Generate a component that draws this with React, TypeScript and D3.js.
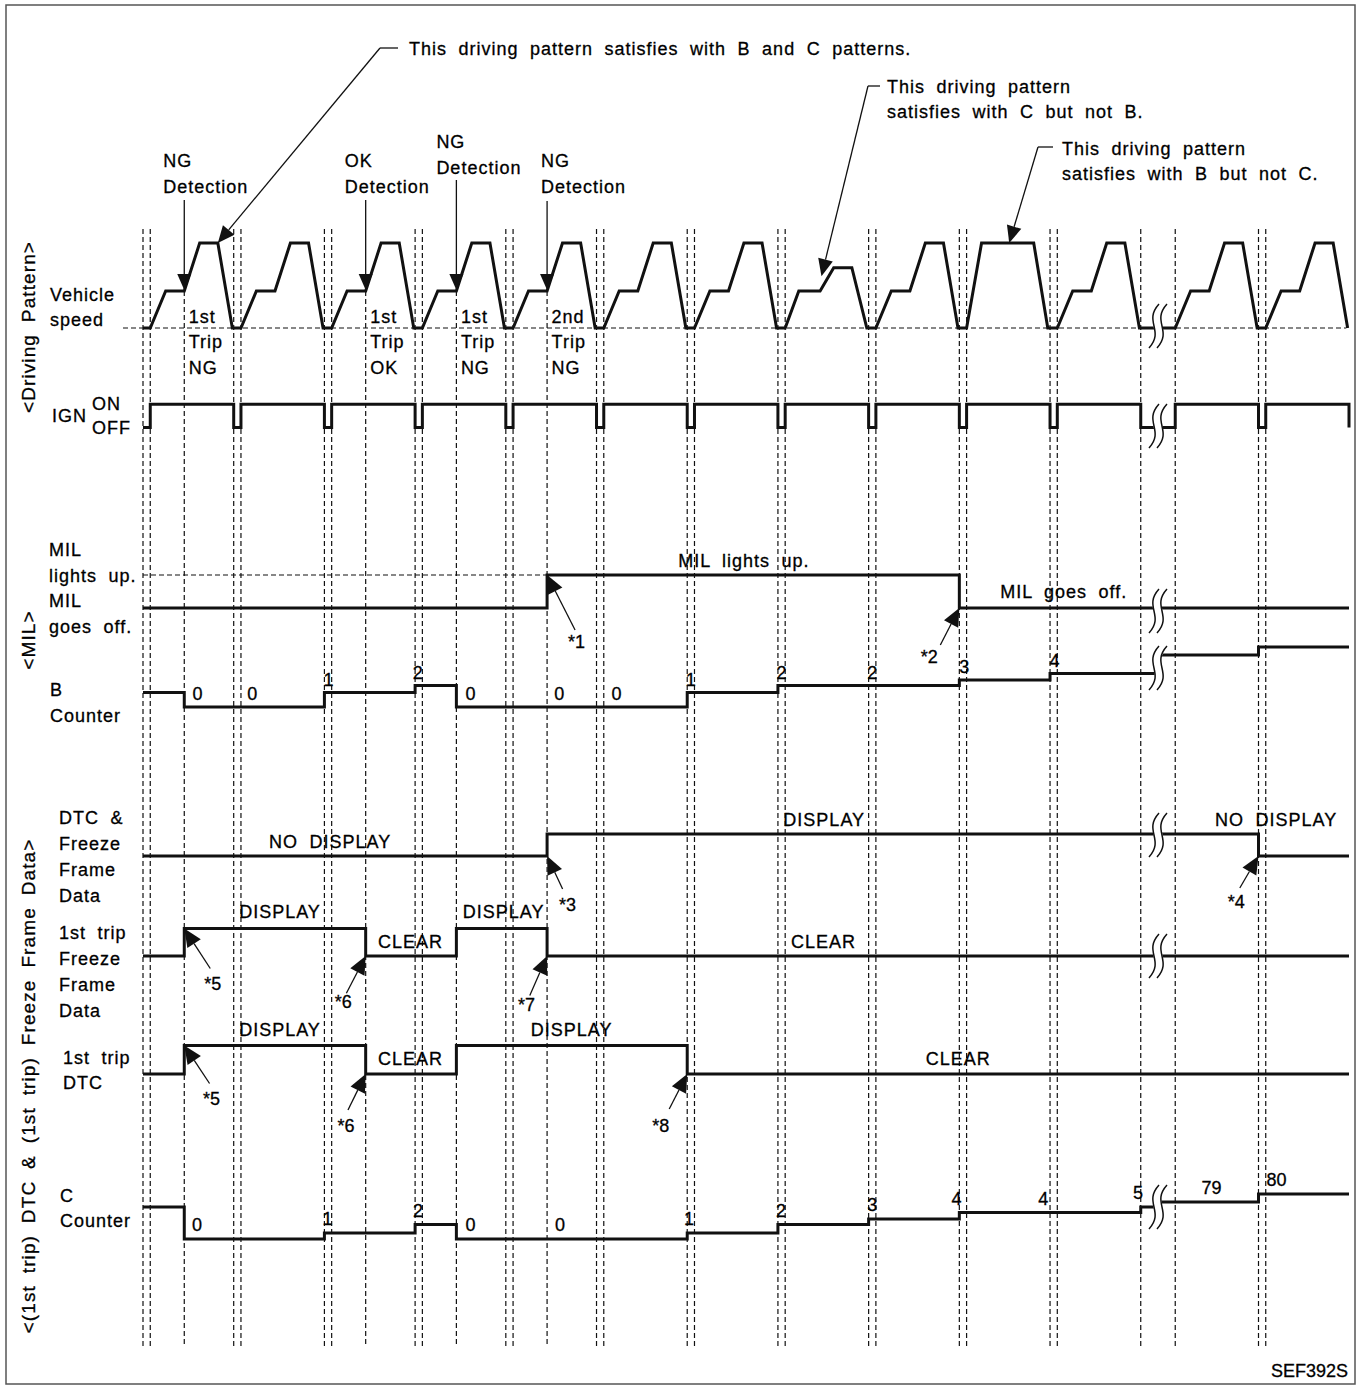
import { useRef, useEffect } from 'react';
import * as d3 from 'd3';

// time axis in arbitrary units: one trip cycle = 100, ignition is off for 8 units before each trip
const tripStarts = [0, 100, 200, 300, 400, 500, 600, 700, 800, 900, 1000, 7000, 7100];
const tripPatterns = ['BC', 'BC', 'BC', 'BC', 'BC', 'BC', 'BC', 'C', 'BC', 'B', 'BC', 'BC', 'BC'];
const tripLength = 92;
const startTime = -8;
const endTime = 7192;
const breakFrom = 1100;
const breakTo = 6992;

// vehicle speed inside one trip: [time since IGN on, speed]
const patternBC: [number, number][] = [[0, 0], [17, 43.5], [37.5, 43.5], [54.5, 100], [74.5, 100], [90.5, 0]];
const patternC: [number, number][] = [[0, 0], [15, 43.5], [38.5, 43.5], [53.5, 71], [73.5, 71], [90, 0]];
const patternB: [number, number][] = [[0, 0], [16.5, 100], [74, 100], [89.5, 0]];

const detectionTimes = [37.5, 237.5, 337.5, 437.5];
const detectionTexts = [['NG', 'Detection'], ['OK', 'Detection'], ['NG', 'Detection'], ['NG', 'Detection']];
const tripResultTexts = [['1st', 'Trip', 'NG'], ['1st', 'Trip', 'OK'], ['1st', 'Trip', 'NG'], ['2nd', 'Trip', 'NG']];

// step signals: [time, value]
const milSteps: [number, number][] = [[-8, 0], [437.5, 1], [892, 0]];
const bCounterSteps: [number, number][] = [[-8, 1], [37.5, 0], [192, 1], [292, 2], [337.5, 0], [592, 1], [692, 2], [892, 3], [992, 4], [4000, 5], [7092, 6]];
const dtcFfdSteps: [number, number][] = [[-8, 0], [437.5, 1], [7092, 0]];
const ffd1stSteps: [number, number][] = [[-8, 0], [37.5, 1], [237.5, 0], [337.5, 1], [437.5, 0]];
const dtc1stSteps: [number, number][] = [[-8, 0], [37.5, 1], [237.5, 0], [337.5, 1], [592, 0]];
const cCounterSteps: [number, number][] = [[-8, 5], [37.5, 0], [192, 1], [292, 2], [337.5, 0], [592, 1], [692, 2], [792, 3], [892, 4], [1092, 5], [4000, 79], [7092, 80]];

const bCounterLabels: [number, string][] = [[52, '0'], [112.5, '0'], [196.5, '1'], [295, '2'], [353, '0'], [451, '0'], [514, '0'], [596, '1'], [696, '2'], [796, '2'], [897.5, '3'], [997, '4']];
const cCounterLabels: [number, string][] = [[51.5, '0'], [195.4, '1'], [295.2, '2'], [353, '0'], [451.7, '0'], [594, '1'], [695.4, '2'], [796, '3'], [889, '4'], [984.6, '4'], [1089, '5'], [7040, '79'], [7112, '80']];

const milTexts: [number, number, string][] = [[582, 1, 'MIL lights up.'], [937, 0, 'MIL goes off.']];
const dtcFfdTexts: [number, number, string][] = [[131, 0, 'NO DISPLAY'], [698, 1, 'DISPLAY'], [7044, 1, 'NO DISPLAY']];
const ffd1stTexts: [number, number, string][] = [[98, 1, 'DISPLAY'], [251, 0, 'CLEAR'], [344.5, 1, 'DISPLAY'], [706.5, 0, 'CLEAR']];
const dtc1stTexts: [number, number, string][] = [[98, 1, 'DISPLAY'], [251, 0, 'CLEAR'], [419.5, 1, 'DISPLAY'], [855, 0, 'CLEAR']];

// *n notes: row, time, level of arrow tip
const starNotes: [string, string, number, number][] = [
    ['*1', 'mil', 437.5, 1], ['*2', 'mil', 892, 0], ['*3', 'dtc', 437.5, 0], ['*4', 'dtc', 7092, 0],
    ['*5', 'ffd', 37.5, 1], ['*6', 'ffd', 237.5, 0], ['*7', 'ffd', 437.5, 0],
    ['*5', 'dtc1', 37.5, 1], ['*6', 'dtc1', 237.5, 0], ['*8', 'dtc1', 592, 0],
];
const starTails = [[28, 55], [-19, 37], [15.5, 33], [-18.7, 32], [26, 40], [-19.3, 37.3], [-17.3, 39.4], [25.3, 38], [-17.7, 36], [-18, 35]];
const starTextPos = [[21, 73], [-38.6, 55], [12, 55], [-30.7, 52], [20, 61.5], [-31, 52], [-29, 55], [18.7, 59.5], [-28.3, 57.7], [-35, 58]];

const noteTexts = [
    ['This driving pattern satisfies with B and C patterns.'],
    ['This driving pattern', 'satisfies with C but not B.'],
    ['This driving pattern', 'satisfies with B but not C.'],
];
const noteTargets: [number, number][] = [[74.5, 100], [740, 61], [947, 100]];

const FONT = '"Liberation Sans", Arial, Helvetica, sans-serif';
const W = 1359;
const H = 1385;

const App = () => {
    const svgRef = useRef<SVGSVGElement | null>(null);

    useEffect(() => {
        const svg = d3.select(svgRef.current);
        svg.selectAll('*').remove();

        const x = d3.scaleLinear()
            .domain([startTime, breakFrom, breakTo, endTime])
            .range([143, 1148, 1168, 1349]);
        const ySpeed = d3.scaleLinear().domain([0, 100]).range([328, 243]);
        const yIgn = d3.scaleLinear().domain([0, 1]).range([427.5, 404.3]);
        const yMil = d3.scaleLinear().domain([0, 1]).range([608, 575]);
        const yB = d3.scaleLinear().domain([0, 1, 2, 3, 4, 5, 6]).range([707, 692.5, 685.5, 680, 673.5, 655, 647]);
        const yDtc = d3.scaleLinear().domain([0, 1]).range([856, 834]);
        const yFfd = d3.scaleLinear().domain([0, 1]).range([956, 928.5]);
        const yDtc1 = d3.scaleLinear().domain([0, 1]).range([1074, 1045.5]);
        const yC = d3.scaleLinear().domain([0, 1, 2, 3, 4, 5, 79, 80]).range([1239, 1233, 1224.5, 1219, 1212.5, 1207, 1202, 1194]);
        const rowScale: Record<string, d3.ScaleLinear<number, number>> = { mil: yMil, dtc: yDtc, ffd: yFfd, dtc1: yDtc1 };

        const root = svg.append('g')
            .style('font-family', FONT)
            .style('font-size', '18px')
            .style('word-spacing', '5.5px')
            .attr('fill', '#000');

        const text = (px: number, py: number, s: string, anchor = 'start', ls = 1) =>
            root.append('text')
                .attr('x', px)
                .attr('y', py)
                .attr('text-anchor', anchor)
                .attr('stroke', '#000')
                .attr('stroke-width', 0.3)
                .style('letter-spacing', `${ls}px`)
                .text(s);

        const textLines = (px: number, py: number, lines: string[], lh: number) =>
            lines.forEach((s, i) => text(px, py + i * lh, s));

        const arrow = (tx: number, ty: number, fx: number, fy: number, len: number, half: number, line = true) => {
            const dx = fx - tx, dy = fy - ty;
            const d = Math.hypot(dx, dy);
            const ux = dx / d, uy = dy / d;
            const bx = tx + ux * len, by = ty + uy * len;
            const px = -uy * half, py = ux * half;
            if (line) {
                root.append('line')
                    .attr('x1', bx).attr('y1', by).attr('x2', fx).attr('y2', fy)
                    .attr('stroke', '#111').attr('stroke-width', 1.3);
            }
            root.append('path')
                .attr('d', `M${tx},${ty}L${bx + px},${by + py}L${bx - px},${by - py}Z`)
                .attr('fill', '#111');
        };

        // frame
        root.append('rect')
            .attr('x', 6).attr('y', 5).attr('width', 1349).attr('height', 1379)
            .attr('fill', 'none').attr('stroke', '#555').attr('stroke-width', 1.5);

        // dashed guides at IGN transitions
        const guideTimes = [startTime, ...tripStarts, ...tripStarts.slice(0, -1).map(s => s + tripLength)];
        guideTimes.forEach(t => {
            root.append('line')
                .attr('x1', x(t)).attr('x2', x(t)).attr('y1', 229).attr('y2', 1347)
                .attr('stroke', '#111').attr('stroke-width', 1.2).attr('stroke-dasharray', '5,3');
        });
        detectionTimes.forEach(t => {
            root.append('line')
                .attr('x1', x(t)).attr('x2', x(t)).attr('y1', ySpeed(43.5)).attr('y2', 1347)
                .attr('stroke', '#111').attr('stroke-width', 1.2).attr('stroke-dasharray', '5,3');
        });

        // dashed reference lines
        [[123, x(breakFrom)], [x(breakTo), 1346]].forEach(([a, b]) => {
            root.append('line')
                .attr('x1', a).attr('x2', b).attr('y1', ySpeed(0)).attr('y2', ySpeed(0))
                .attr('stroke', '#111').attr('stroke-width', 1.2).attr('stroke-dasharray', '5,3');
        });
        root.append('line')
            .attr('x1', x(startTime)).attr('x2', x(437.5)).attr('y1', yMil(1)).attr('y2', yMil(1))
            .attr('stroke', '#111').attr('stroke-width', 1.2).attr('stroke-dasharray', '5,3');

        // vehicle speed
        const patterns: Record<string, [number, number][]> = { BC: patternBC, C: patternC, B: patternB };
        const speedPoints: [number, number][] = [[startTime, 0]];
        tripStarts.forEach((s, i) => {
            patterns[tripPatterns[i]].forEach(([dt, v]) => speedPoints.push([s + dt, v]));
        });
        root.append('path')
            .datum(speedPoints)
            .attr('fill', 'none').attr('stroke', '#111').attr('stroke-width', 3)
            .attr('d', d3.line<[number, number]>().x(d => x(d[0])).y(d => ySpeed(d[1])) as any);

        // IGN
        const ignSteps: [number, number][] = [[startTime, 0]];
        tripStarts.forEach(s => { ignSteps.push([s, 1], [s + tripLength, 0]); });

        const stepPath = (data: [number, number][], y: d3.ScaleLinear<number, number>, close = true) => {
            const pts = close ? [...data, [endTime, data[data.length - 1][1]] as [number, number]] : data;
            root.append('path')
                .datum(pts)
                .attr('fill', 'none').attr('stroke', '#111').attr('stroke-width', 3)
                .attr('d', d3.line<[number, number]>().x(d => x(d[0])).y(d => y(d[1])).curve(d3.curveStepAfter) as any);
        };
        stepPath(ignSteps, yIgn, false);
        stepPath(milSteps, yMil);
        stepPath(bCounterSteps, yB);
        stepPath(dtcFfdSteps, yDtc);
        stepPath(ffd1stSteps, yFfd);
        stepPath(dtc1stSteps, yDtc1);
        stepPath(cCounterSteps, yC);

        // break marks
        const bx = (x(breakFrom) + x(breakTo)) / 2;
        const sPath = (cx: number, cy: number, h: number) => {
            const y0 = cy - h / 2, y1 = cy + h / 2;
            return `M${cx + 5},${y0} C${cx - 11},${y0 + h * 0.4} ${cx + 11},${y1 - h * 0.4} ${cx - 5},${y1}`;
        };
        [326, 426, 611, 668, 835, 956, 1207].forEach(cy => {
            root.append('path').attr('d', sPath(bx, cy, 44))
                .attr('fill', 'none').attr('stroke', '#fff').attr('stroke-width', 9);
            [-4, 4].forEach(o => {
                root.append('path').attr('d', sPath(bx + o, cy, 44))
                    .attr('fill', 'none').attr('stroke', '#111').attr('stroke-width', 1.5);
            });
        });

        // row labels
        textLines(50, 301, ['Vehicle', 'speed'], 25);
        text(52, 422, 'IGN');
        text(92, 410, 'ON');
        text(92, 434, 'OFF');
        textLines(49, 556, ['MIL', 'lights up.', 'MIL', 'goes off.'], 25.5);
        textLines(50, 696, ['B', 'Counter'], 26);
        textLines(59, 824, ['DTC &', 'Freeze', 'Frame', 'Data'], 26);
        textLines(59, 939, ['1st trip', 'Freeze', 'Frame', 'Data'], 26);
        textLines(63, 1064, ['1st trip', 'DTC'], 25);
        textLines(60, 1202, ['C', 'Counter'], 25);

        // section labels
        [[327, '<Driving Pattern>'], [640, '<MIL>'], [1086, '<(1st trip) DTC & (1st trip) Freeze Frame Data>']].forEach(([cy, s]) => {
            root.append('text')
                .attr('transform', `translate(35,${cy}) rotate(-90)`)
                .attr('text-anchor', 'middle')
                .attr('stroke', '#000')
                .attr('stroke-width', 0.3)
                .style('font-size', '19px')
                .style('letter-spacing', '1.1px')
                .text(s as string);
        });

        // detections
        const detLabelDx = [-21, -21, -20, -6];
        const detLabelY = [167, 167, 148, 167];
        const detArrowTop = [200, 200, 180, 201];
        detectionTimes.forEach((t, i) => {
            textLines(x(t) + detLabelDx[i], detLabelY[i], detectionTexts[i], 26);
            arrow(x(t), ySpeed(43.5) - 1, x(t), detArrowTop[i], 16, 7);
            textLines(x(t) + 4.5, 323, tripResultTexts[i], 25.3);
        });

        // top notes
        const noteAt = [[409, 55], [887, 93], [1062, 155]];
        const noteElbow = [[380, 48, 398], [868, 86, 880], [1038, 147, 1053]];
        noteTexts.forEach((lines, i) => {
            textLines(noteAt[i][0], noteAt[i][1], lines, 25);
            const [ex, ey, ex2] = noteElbow[i];
            root.append('line')
                .attr('x1', ex).attr('y1', ey).attr('x2', ex2).attr('y2', ey)
                .attr('stroke', '#111').attr('stroke-width', 1.3);
            arrow(x(noteTargets[i][0]), ySpeed(noteTargets[i][1]), ex, ey, 17, 7.5);
        });

        // counter values
        bCounterLabels.forEach(([t, s]) => text(x(t), yB(+s) - 7, s, 'middle', 0));
        cCounterLabels.forEach(([t, s]) => text(x(t), yC(+s) - 8, s, 'middle', 0));

        // state texts
        milTexts.forEach(([t, v, s]) => text(x(t), yMil(v) - (v ? 8 : 10), s));
        dtcFfdTexts.forEach(([t, v, s]) => text(x(t), yDtc(v) - 8.5, s));
        ffd1stTexts.forEach(([t, v, s]) => text(x(t), yFfd(v) - (v ? 10.5 : 8.5), s));
        dtc1stTexts.forEach(([t, v, s]) => text(x(t), yDtc1(v) - (v ? 10 : 9.5), s));

        // *n notes
        starNotes.forEach(([s, row, t, v], i) => {
            const tx = x(t), ty = rowScale[row](v);
            arrow(tx, ty, tx + starTails[i][0], ty + starTails[i][1], 18, 8);
            text(tx + starTextPos[i][0], ty + starTextPos[i][1], s, 'start', 0);
        });

        text(1348, 1377, 'SEF392S', 'end', 0);
    }, []);

    return (
        <div style={{ position: 'absolute', left: 0, top: 0 }}>
            <svg ref={svgRef} width={W} height={H} style={{ display: 'block', background: '#fff' }}></svg>
        </div>
    );
};

export default App;
